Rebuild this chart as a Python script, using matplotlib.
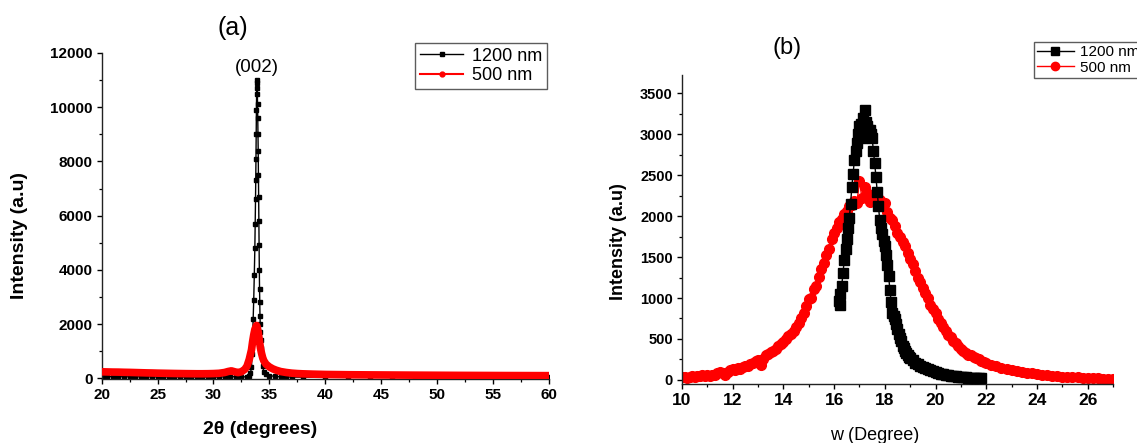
import matplotlib
matplotlib.use("Agg")
import matplotlib.pyplot as plt
from matplotlib.lines import Line2D
from matplotlib.ticker import MultipleLocator

plt.rcParams['font.family'] = ['Liberation Sans', 'DejaVu Sans']

# ---- (a) XRD 2theta scan ----
xrd_1200_x = [20, 20.5, 21, 21.5, 22, 22.5, 23, 23.5, 24, 24.5, 25, 25.5, 26, 26.5, 27, 27.5,
              28, 28.5, 29, 29.5, 30, 30.5, 31, 31.5, 32, 32.5, 33.0, 33.2, 33.3, 33.4, 33.45,
              33.5, 33.55, 33.6, 33.65, 33.7, 33.73, 33.76, 33.78, 33.8, 33.82, 33.84, 33.86,
              33.88, 33.9, 33.92, 33.94, 33.96, 33.98, 34.0, 34.02, 34.04, 34.06, 34.08, 34.1,
              34.12, 34.14, 34.16, 34.18, 34.2, 34.22, 34.25, 34.3, 34.4, 34.5, 34.7, 35.0,
              35.5, 36, 36.5, 37, 38, 40, 42, 44, 46, 48, 50, 52, 54, 56, 58, 60]
xrd_1200_y = [60, 60, 58, 58, 56, 55, 55, 54, 53, 52, 52, 50, 50, 48, 48, 47,
              46, 46, 45, 45, 45, 46, 55, 70, 50, 45, 60, 100, 180, 400, 900,
              1500, 2200, 2900, 3800, 4800, 5700, 6600, 7300, 8100, 9000, 9900, 10500,
              10900, 11000, 10700, 10100, 9600, 9000, 8400, 7500, 6700, 5800, 4900, 4000,
              3300, 2800, 2300, 2000, 1700, 1400, 1100, 800, 450, 250, 150, 100,
              70, 55, 50, 45, 42, 40, 38, 36, 35, 34, 33, 32, 32, 31, 30, 30]

xrd_500_x = [20, 20.5, 21, 21.5, 22, 22.5, 23, 23.5, 24, 24.5, 25, 25.5, 26, 26.5, 27, 27.5,
             28, 28.5, 29, 29.5, 30, 30.5, 31, 31.3, 31.6, 31.9, 32.2, 32.5, 32.8, 33.0, 33.2,
             33.4, 33.5, 33.6, 33.7, 33.8, 33.85, 33.9, 34.0, 34.1, 34.2, 34.3, 34.4, 34.5,
             34.7, 35.0, 35.3, 35.6, 36.0, 36.5, 37, 37.5, 38, 39, 40, 42, 44, 46, 48, 50,
             52, 54, 56, 58, 60]
xrd_500_y = [240, 235, 230, 228, 222, 218, 212, 206, 200, 196, 190, 186, 182, 178, 175, 172,
             170, 168, 168, 170, 175, 185, 215, 250, 275, 240, 210, 240, 330, 450, 700,
             1050, 1350, 1600, 1800, 1900, 1950, 1900, 1700, 1400, 1120, 920, 760, 650,
             520, 420, 350, 300, 250, 215, 190, 175, 165, 152, 142, 132, 126, 121, 116, 112,
             108, 105, 102, 100, 98]

# ---- (b) rocking curves ----
rc_1200_x = [16.2, 16.22, 16.25, 16.3, 16.35, 16.4, 16.45, 16.5, 16.55, 16.6, 16.65, 16.7,
             16.75, 16.8, 16.85, 16.9, 16.95, 17.0, 17.05, 17.1, 17.15, 17.2, 17.25, 17.3,
             17.35, 17.4, 17.45, 17.5, 17.55, 17.6, 17.65, 17.7, 17.75, 17.8, 17.85, 17.9,
             17.95, 18.0, 18.05, 18.1, 18.15, 18.2, 18.25, 18.3, 18.35, 18.4, 18.45, 18.5,
             18.55, 18.6, 18.65, 18.7, 18.75, 18.8, 18.85, 18.9, 18.95, 19.0, 19.1, 19.2,
             19.3, 19.4, 19.5, 19.6, 19.7, 19.8, 19.9, 20.0, 20.1, 20.2, 20.3, 20.4, 20.5,
             20.6, 20.7, 20.8, 20.9, 21.0, 21.1, 21.2, 21.3, 21.4, 21.5, 21.6, 21.7, 21.8]
rc_1200_y = [960, 920, 1050, 1150, 1300, 1470, 1600, 1720, 1850, 1980, 2150, 2360,
             2520, 2690, 2800, 2890, 3000, 3100, 3130, 2950, 3200, 3300, 3150, 3100,
             3050, 3050, 3000, 2950, 2800, 2650, 2480, 2300, 2120, 1950, 1850, 1780,
             1700, 1630, 1520, 1400, 1270, 1100, 950, 820, 780, 740, 680, 620,
             560, 510, 470, 420, 390, 350, 330, 300, 285, 270, 240, 210,
             190, 175, 160, 145, 132, 118, 105, 93, 84, 76, 68, 62, 55,
             50, 46, 42, 39, 36, 33, 31, 29, 28, 26, 25, 23, 22]

rc_500_x = [10.0, 10.1, 10.2, 10.3, 10.4, 10.5, 10.6, 10.7, 10.8, 10.9,
            11.0, 11.1, 11.2, 11.3, 11.4, 11.5, 11.6, 11.7, 11.8, 11.9,
            12.0, 12.1, 12.2, 12.3, 12.4, 12.5, 12.6, 12.7, 12.8, 12.9,
            13.0, 13.1, 13.2, 13.3, 13.4, 13.5, 13.6, 13.7, 13.8, 13.9,
            14.0, 14.1, 14.2, 14.3, 14.4, 14.5, 14.6, 14.7, 14.8, 14.9,
            15.0, 15.1, 15.2, 15.3, 15.4, 15.5, 15.6, 15.7, 15.8, 15.9,
            16.0, 16.1, 16.2, 16.3, 16.4, 16.5, 16.6, 16.7, 16.8, 16.9,
            17.0, 17.1, 17.2, 17.3, 17.4, 17.5, 17.6, 17.7, 17.8, 17.9,
            18.0, 18.1, 18.2, 18.3, 18.4, 18.5, 18.6, 18.7, 18.8, 18.9,
            19.0, 19.1, 19.2, 19.3, 19.4, 19.5, 19.6, 19.7, 19.8, 19.9,
            20.0, 20.1, 20.2, 20.3, 20.4, 20.5, 20.6, 20.7, 20.8, 20.9,
            21.0, 21.1, 21.2, 21.3, 21.4, 21.5, 21.6, 21.7, 21.8, 21.9,
            22.0, 22.2, 22.4, 22.6, 22.8, 23.0, 23.2, 23.4, 23.6, 23.8,
            24.0, 24.2, 24.4, 24.6, 24.8, 25.0, 25.2, 25.4, 25.6, 25.8,
            26.0, 26.2, 26.4, 26.6, 26.8, 27.0]
rc_500_y = [30, 35, 28, 40, 45, 38, 50, 42, 55, 48,
            55, 52, 65, 60, 90, 100, 80, 65, 95, 120,
            130, 125, 140, 135, 160, 175, 170, 195, 210, 230,
            240, 180, 260, 300, 320, 335, 350, 380, 410, 440,
            465, 500, 540, 560, 600, 640, 700, 760, 820, 900,
            985, 1000, 1110, 1150, 1260, 1350, 1430, 1520, 1600, 1720,
            1800, 1850, 1930, 1960, 2030, 2060, 2120, 2140, 2180, 2160,
            2430, 2220, 2360, 2280, 2170, 2200, 2250, 2260, 2200, 2150,
            2160, 2050, 1980, 1950, 1880, 1800, 1750, 1680, 1630, 1550,
            1480, 1420, 1330, 1250, 1190, 1120, 1060, 1000, 920, 860,
            820, 740, 690, 650, 600, 550, 520, 480, 450, 420,
            380, 350, 330, 310, 300, 280, 265, 250, 230, 220,
            210, 185, 165, 145, 130, 118, 105, 95, 88, 80,
            72, 62, 56, 50, 46, 40, 36, 33, 30, 28,
            24, 22, 20, 17, 15, 12]

fig = plt.figure(figsize=(11.37, 4.43), dpi=100)
ax1 = fig.add_axes([0.0894, 0.1442, 0.3934, 0.7362])
ax2 = fig.add_axes([0.5998, 0.1332, 0.3791, 0.6968])

for ax in (ax1, ax2):
    ax.spines['top'].set_visible(False)
    ax.spines['right'].set_visible(False)
    for s in ('left', 'bottom'):
        ax.spines[s].set_linewidth(1.0)
        ax.spines[s].set_color('#222222')
    ax.tick_params(which='major', direction='out', length=3.5, width=1.0, pad=3)
    ax.tick_params(which='minor', direction='out', length=2.2, width=0.9)

# panel (a)
ax1.plot(xrd_1200_x, xrd_1200_y, color='black', lw=1.0, marker='s', ms=3.4, zorder=2)
ax1.plot(xrd_500_x, xrd_500_y, color='red', lw=5.5, solid_joinstyle='round', zorder=3)
ax1.set_xlim(20, 60)
ax1.set_ylim(-30, 12000)
ax1.xaxis.set_major_locator(MultipleLocator(5))
ax1.xaxis.set_minor_locator(MultipleLocator(2.5))
ax1.yaxis.set_major_locator(MultipleLocator(2000))
ax1.yaxis.set_minor_locator(MultipleLocator(1000))
for lab in ax1.get_xticklabels() + ax1.get_yticklabels():
    lab.set_fontweight('bold')
    lab.set_fontsize(11)
ax1.set_xlabel('2θ (degrees)', fontsize=14, fontweight='bold')
ax1.set_ylabel('Intensity (a.u)', fontsize=14, fontweight='bold')
ax1.xaxis.set_label_coords(0.354, -0.128)
ax1.yaxis.set_label_coords(-0.165, 0.44)
ax1.text(33.9, 11150, '(002)', ha='center', va='bottom', fontsize=13.5)

handles_a = [Line2D([], [], color='black', lw=1, marker='s', ms=3.2),
             Line2D([], [], color='red', lw=1.5, marker='o', ms=3.5)]
fig.legend(handles_a, ['1200 nm', '500 nm'], loc='upper right',
           bbox_to_anchor=(547 / 1137, 1 - 43 / 443), fontsize=13, frameon=True,
           fancybox=False, edgecolor='#333333', handlelength=2.4, handletextpad=0.5,
           borderpad=0.25, labelspacing=0.15, borderaxespad=0)

# panel (b)
ax2.plot(rc_500_x, rc_500_y, color='red', lw=1.0, marker='o', ms=7, zorder=2)
ax2.plot(rc_1200_x, rc_1200_y, color='black', lw=1.0, marker='s', ms=6.5, zorder=3)
ax2.set_xlim(10, 27)
ax2.set_ylim(-50, 3720)
ax2.xaxis.set_major_locator(MultipleLocator(2))
ax2.xaxis.set_minor_locator(MultipleLocator(1))
ax2.yaxis.set_major_locator(MultipleLocator(500))
ax2.yaxis.set_minor_locator(MultipleLocator(250))
for lab in ax2.get_xticklabels():
    lab.set_fontweight('bold')
    lab.set_fontsize(12.5)
for lab in ax2.get_yticklabels():
    lab.set_fontweight('bold')
    lab.set_fontsize(10.5)
ax2.set_xlabel('w (Degree)', fontsize=13)
ax2.set_ylabel('Intensity (a.u)', fontsize=13, fontweight='bold')
ax2.xaxis.set_label_coords(0.448, -0.14)
ax2.yaxis.set_label_coords(-0.127, 0.46)

handles_b = [Line2D([], [], color='black', lw=1, marker='s', ms=5.5),
             Line2D([], [], color='red', lw=1, marker='o', ms=6)]
fig.legend(handles_b, ['1200 nm', '500 nm'], loc='upper left',
           bbox_to_anchor=(1034 / 1137, 1 - 42 / 443), fontsize=11, frameon=True,
           fancybox=False, edgecolor='#333333', handlelength=2.4, handletextpad=0.4,
           borderpad=0.2, labelspacing=0.1, borderaxespad=0)

fig.text(233 / 1137, 1 - 28 / 443, '(a)', ha='center', va='center', fontsize=18)
fig.text(787 / 1137, 1 - 48 / 443, '(b)', ha='center', va='center', fontsize=17)

fig.savefig('out.png', dpi=100)
